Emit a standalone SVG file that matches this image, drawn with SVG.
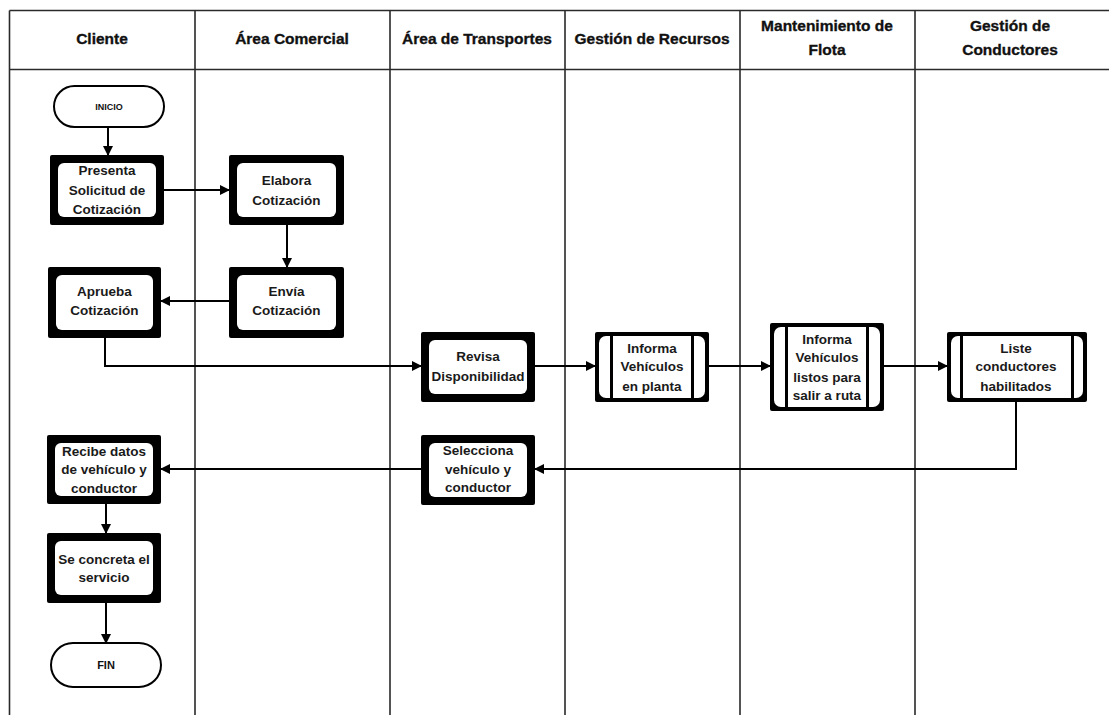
<svg xmlns="http://www.w3.org/2000/svg" width="1109" height="715" viewBox="0 0 1109 715">
  <defs>
    <marker id="arr" markerUnits="userSpaceOnUse" markerWidth="10" markerHeight="10" refX="9" refY="5" orient="auto">
      <path d="M0,0 L10,5 L0,10 z" fill="#000"/>
    </marker>
    <style>
      .grid { stroke: #2a2a2a; stroke-width: 1.6; fill: none; }
      .hdr { font-family: "Liberation Sans", Arial, sans-serif; font-weight: bold; font-size: 15.5px; fill: #111; stroke: #111; stroke-width: 0.35; text-anchor: middle; }
      .txt { font-family: "Liberation Sans", Arial, sans-serif; font-weight: bold; font-size: 13.5px; fill: #1a1a1a; text-anchor: middle; }
      .small { font-family: "Liberation Sans", Arial, sans-serif; font-weight: bold; font-size: 9px; fill: #111; text-anchor: middle; }
      .term { fill: #fff; stroke: #000; stroke-width: 2; }
      .outer { fill: #000; }
      .inner { fill: #fff; }
      .conn { stroke: #000; stroke-width: 2; fill: none; }
    </style>
  </defs>
  <rect x="0" y="0" width="1109" height="715" fill="#fff"/>

  <g id="lanes">
    <path class="grid" d="M9.5,10.5 H1109 M9.5,69.5 H1109 M9.5,10.5 V715 M195,10.5 V715 M390,10.5 V715 M565,10.5 V715 M740,10.5 V715 M915,10.5 V715"/>
    <text class="hdr" x="102" y="44">Cliente</text>
    <text class="hdr" x="292" y="44">Área Comercial</text>
    <text class="hdr" x="477" y="44">Área de Transportes</text>
    <text class="hdr" x="652" y="44">Gestión de Recursos</text>
    <text class="hdr" x="827" y="31">Mantenimiento de</text>
    <text class="hdr" x="827" y="55">Flota</text>
    <text class="hdr" x="1010" y="31">Gestión de</text>
    <text class="hdr" x="1010" y="55">Conductores</text>
  </g>

  <g id="connectors">
    <path class="conn" d="M108,127 V155" marker-end="url(#arr)"/>
    <path class="conn" d="M164,190 H229" marker-end="url(#arr)"/>
    <path class="conn" d="M287,225 V267" marker-end="url(#arr)"/>
    <path class="conn" d="M229,301 H161" marker-end="url(#arr)"/>
    <path class="conn" d="M105,338 V366 H421" marker-end="url(#arr)"/>
    <path class="conn" d="M535,366 H595" marker-end="url(#arr)"/>
    <path class="conn" d="M709,366 H770" marker-end="url(#arr)"/>
    <path class="conn" d="M884,366 H947" marker-end="url(#arr)"/>
    <path class="conn" d="M1016,402 V469 H535" marker-end="url(#arr)"/>
    <path class="conn" d="M421,469 H161" marker-end="url(#arr)"/>
    <path class="conn" d="M106,504 V533" marker-end="url(#arr)"/>
    <path class="conn" d="M106,603 V643" marker-end="url(#arr)"/>
  </g>

  <g id="inicio">
    <rect class="term" x="54" y="86" width="110" height="41" rx="20.5"/>
    <text class="small" x="109" y="110">INICIO</text>
  </g>

  <g id="presenta">
    <rect class="outer" x="50" y="155" width="114" height="70" rx="2"/>
    <rect class="inner" x="58" y="163" width="98" height="54" rx="6"/>
    <text class="txt" x="107" y="175">Presenta</text>
    <text class="txt" x="107" y="194.5">Solicitud de</text>
    <text class="txt" x="107" y="213.5">Cotización</text>
  </g>

  <g id="elabora">
    <rect class="outer" x="229" y="155" width="115" height="70" rx="2"/>
    <rect class="inner" x="237" y="163" width="99" height="54" rx="6"/>
    <text class="txt" x="286.5" y="184.5">Elabora</text>
    <text class="txt" x="286.5" y="204.5">Cotización</text>
  </g>

  <g id="envia">
    <rect class="outer" x="229" y="267" width="115" height="71" rx="2"/>
    <rect class="inner" x="237" y="275" width="99" height="55" rx="6"/>
    <text class="txt" x="286.5" y="296">Envía</text>
    <text class="txt" x="286.5" y="315">Cotización</text>
  </g>

  <g id="aprueba">
    <rect class="outer" x="48" y="267" width="113" height="71" rx="2"/>
    <rect class="inner" x="56" y="275" width="97" height="55" rx="6"/>
    <text class="txt" x="104.5" y="296">Aprueba</text>
    <text class="txt" x="104.5" y="315">Cotización</text>
  </g>

  <g id="revisa">
    <rect class="outer" x="421" y="332" width="114" height="70" rx="2"/>
    <rect class="inner" x="429" y="340" width="98" height="54" rx="6"/>
    <text class="txt" x="478" y="361">Revisa</text>
    <text class="txt" x="478" y="381">Disponibilidad</text>
  </g>

  <g id="informa-planta">
    <rect class="outer" x="595" y="332" width="114" height="70" rx="2"/>
    <rect class="inner" x="599" y="336" width="106" height="62" rx="7"/>
    <rect class="outer" x="610" y="336" width="3" height="62"/>
    <rect class="outer" x="691" y="336" width="3" height="62"/>
    <text class="txt" x="652" y="352.5">Informa</text>
    <text class="txt" x="652" y="371">Vehículos</text>
    <text class="txt" x="652" y="390.5">en planta</text>
  </g>

  <g id="informa-listos">
    <rect class="outer" x="770" y="323" width="114" height="88" rx="2"/>
    <rect class="inner" x="774" y="327" width="106" height="80" rx="7"/>
    <rect class="outer" x="785" y="327" width="3" height="80"/>
    <rect class="outer" x="866" y="327" width="3" height="80"/>
    <text class="txt" x="827" y="343.5">Informa</text>
    <text class="txt" x="827" y="362">Vehículos</text>
    <text class="txt" x="827" y="381.5">listos para</text>
    <text class="txt" x="827" y="399.5">salir a ruta</text>
  </g>

  <g id="liste">
    <rect class="outer" x="947" y="332" width="140" height="70" rx="2"/>
    <rect class="inner" x="951" y="336" width="132" height="62" rx="7"/>
    <rect class="outer" x="960" y="336" width="3" height="62"/>
    <rect class="outer" x="1071" y="336" width="3" height="62"/>
    <text class="txt" x="1016" y="352.5">Liste</text>
    <text class="txt" x="1016" y="371">conductores</text>
    <text class="txt" x="1016" y="390.5">habilitados</text>
  </g>

  <g id="selecciona">
    <rect class="outer" x="421" y="435" width="114" height="70" rx="2"/>
    <rect class="inner" x="429" y="443" width="98" height="54" rx="6"/>
    <text class="txt" x="478" y="454.5">Selecciona</text>
    <text class="txt" x="478" y="474">vehículo y</text>
    <text class="txt" x="478" y="492">conductor</text>
  </g>

  <g id="recibe">
    <rect class="outer" x="47" y="435" width="114" height="69" rx="2"/>
    <rect class="inner" x="55" y="443" width="98" height="53" rx="6"/>
    <text class="txt" x="104" y="456">Recibe datos</text>
    <text class="txt" x="104" y="474">de vehículo y</text>
    <text class="txt" x="104" y="493">conductor</text>
  </g>

  <g id="concreta">
    <rect class="outer" x="47" y="533" width="114" height="70" rx="2"/>
    <rect class="inner" x="55" y="541" width="98" height="54" rx="6"/>
    <text class="txt" x="104" y="563.5">Se concreta el</text>
    <text class="txt" x="104" y="581.5">servicio</text>
  </g>

  <g id="fin">
    <rect class="term" x="51" y="643" width="110" height="44" rx="22"/>
    <text class="small" x="106" y="669" style="font-size:11px">FIN</text>
  </g>
</svg>
